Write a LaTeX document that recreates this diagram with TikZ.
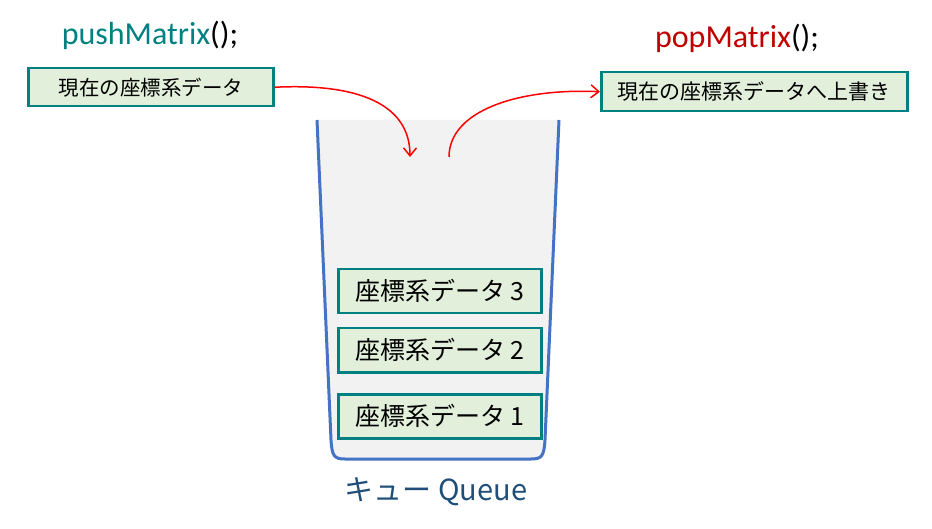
\documentclass[tikz,border=0pt]{standalone}
\usepackage{fontspec}
\newfontfamily\jpfont{Noto Sans CJK JP}
\newfontfamily\calfont{Carlito}
\usetikzlibrary{arrows.meta}
\definecolor{teal1}{HTML}{008080}
\definecolor{boxfill}{HTML}{E2EFDA}
\definecolor{qblue}{HTML}{4472C4}
\definecolor{qgray}{HTML}{F2F2F2}
\definecolor{darkred}{HTML}{C00000}
\definecolor{qtext}{HTML}{1F4E79}
\tikzset{
  databox/.style={draw=teal1, line width=2.5pt, fill=boxfill, inner sep=0pt, anchor=north west},
  redarrow/.style={draw=red, line width=1.5pt, -{Straight Barb[length=8pt,width=13pt,line width=1.5pt]}},
}
\begin{document}
\begin{tikzpicture}[x=1pt,y=-1pt]
\useasboundingbox (0,0) rectangle (932,529);
% container
\fill[qgray] (317,120) -- (331,440) .. controls (332,456) and (334,459) .. (345,459) -- (531,459) .. controls (542,459) and (544,456) .. (545,440) -- (559,120) -- cycle;
\draw[qblue, line width=3pt, line join=round] (317,120) -- (331,440) .. controls (332,456) and (334,459) .. (345,459) -- (531,459) .. controls (542,459) and (544,456) .. (545,440) -- (559,120);
% titles
\node[font=\calfont\fontsize{32}{36}\selectfont, text=teal1] (push) at (150,35) {pushMatrix\textcolor{black}{();}};
\node[font=\calfont\fontsize{32}{36}\selectfont, text=darkred] (pop) at (737,38) {popMatrix\textcolor{black}{();}};
% top boxes
\node[databox, minimum width=245pt, minimum height=38pt, font=\jpfont\fontsize{20.5}{22}\selectfont] (cur) at (27,67) {現在の座標系データ};
\node[databox, minimum width=306pt, minimum height=39pt, font=\jpfont\fontsize{21}{23}\selectfont] (over) at (600,71) {現在の座標系データへ上書き};
% data boxes
\node[databox, minimum width=203pt, minimum height=44pt, font=\jpfont\fontsize{25}{28}\selectfont] (d3) at (337,268) {座標系データ 3};
\node[databox, minimum width=203pt, minimum height=44pt, font=\jpfont\fontsize{25}{28}\selectfont] (d2) at (337,327) {座標系データ 2};
\node[databox, minimum width=203pt, minimum height=44pt, font=\jpfont\fontsize{25}{28}\selectfont] (d1) at (337,393) {座標系データ 1};
% label
\node[font=\jpfont\fontsize{29}{32}\selectfont, text=qtext] (qlabel) at (436,492) {キュー Queue};
% arrows
\coordinate (inpt) at (410,157);
\coordinate (outpt) at (449,157);
\draw[redarrow] (cur.east) .. controls (360,83) and (410,105) .. (inpt);
\draw[redarrow] (outpt) .. controls (449,110) and (520,88) .. (over.west);
\end{tikzpicture}
\end{document}
